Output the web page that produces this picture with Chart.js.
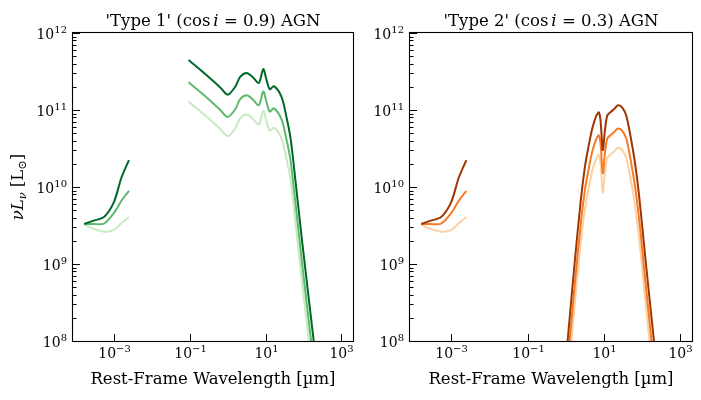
<!DOCTYPE html>
<html><head><meta charset="utf-8">
<script src="https://cdn.jsdelivr.net/npm/chart.js@4.4.1/dist/chart.umd.min.js"></script>
<style>
html,body{margin:0;padding:0;background:#fff;}
#wrap{position:relative;width:701px;height:400px;overflow:hidden;}
canvas{position:absolute;top:0;}
</style></head><body>
<div id="wrap">
<canvas id="c1" width="360" height="400" style="left:0;width:360px;height:400px"></canvas>
<canvas id="c2" width="341" height="400" style="left:360px;width:341px;height:400px"></canvas>
</div>
<script>
// ---------------- data (rest-frame wavelength in µm, νLν in L☉) ----------------
const wavelengthXray = [1.66e-4, 2.82e-4, 5.5e-4, 1.0e-3, 1.585e-3, 2.51e-3];
const lumXrayDark  = [3.31e9, 3.63e9, 4.07e9, 6.31e9, 1.32e10, 2.24e10];
const lumXrayMid   = [3.31e9, 3.31e9, 3.35e9, 4.57e9, 6.61e9, 8.91e9];
const lumXrayLight = [3.24e9, 2.88e9, 2.63e9, 2.75e9, 3.39e9, 4.07e9];

const wavelengthType1 = [0.0933, 0.316, 0.631, 1.0, 1.585, 2.14, 3.16, 4.57, 6.61, 8.71, 10.5, 12.9, 16.6, 26.3, 35.5, 45.7, 63.1, 91.2, 186, 282];
const lumType1Dark  = [4.47e11, 2.69e11, 1.98e11, 1.58e11, 2.0e11, 2.69e11, 3.02e11, 2.69e11, 2.24e11, 3.39e11, 2.51e11, 1.86e11, 2.04e11, 1.48e11, 8.13e10, 4.27e10, 1.07e10, 2.04e9, 1.0e8, 1.58e7];
const lumType1Mid   = [2.29e11, 1.38e11, 1.01e11, 8.13e10, 1.02e11, 1.38e11, 1.55e11, 1.38e11, 1.15e11, 1.74e11, 1.29e11, 9.55e10, 1.05e11, 7.59e10, 4.17e10, 2.19e10, 5.50e9, 1.05e9, 5.13e7, 8.13e6];
const lumType1Light = [1.29e11, 7.76e10, 5.70e10, 4.57e10, 5.75e10, 7.76e10, 8.71e10, 7.76e10, 6.46e10, 9.77e10, 7.24e10, 5.37e10, 5.89e10, 4.27e10, 2.34e10, 1.23e10, 3.09e9, 5.89e8, 2.88e7, 4.57e6];

const wavelengthType2 = [0.794, 1.12, 1.70, 2.51, 3.16, 3.80, 5.13, 7.24, 8.13, 9.33, 10.7, 12.3, 15.5, 18.2, 23.4, 30.2, 38.9, 57.5, 72.4, 89.1, 112, 151, 204, 282];
const lumType2Dark  = [1.58e7, 1.0e8, 1.0e9, 7.08e9, 1.78e10, 3.02e10, 6.17e10, 9.33e10, 7.41e10, 3.02e10, 5.62e10, 8.51e10, 9.55e10, 1.02e11, 1.15e11, 1.07e11, 8.32e10, 3.02e10, 1.38e10, 5.62e9, 1.78e9, 4.17e8, 1.0e8, 2.0e7];
const lumType2Mid   = [7.94e6, 5.01e7, 5.01e8, 3.55e9, 8.91e9, 1.51e10, 3.09e10, 4.68e10, 3.72e10, 1.51e10, 2.82e10, 4.27e10, 4.79e10, 5.13e10, 5.75e10, 5.37e10, 4.17e10, 1.51e10, 6.92e9, 2.82e9, 8.91e8, 2.09e8, 5.01e7, 1.0e7];
const lumType2Light = [4.47e6, 2.82e7, 2.82e8, 2.0e9, 5.01e9, 8.51e9, 1.74e10, 2.63e10, 2.09e10, 8.51e9, 1.58e10, 2.40e10, 2.69e10, 2.88e10, 3.24e10, 3.02e10, 2.34e10, 8.51e9, 3.89e9, 1.58e9, 5.01e8, 1.17e8, 2.82e7, 5.62e6];

const xTickValues = [1e-3, 1e-1, 1e1, 1e3];
const xTickExponents = ['\u22123', '\u22121', '1', '3'];
const yTickValues = [1e8, 1e9, 1e10, 1e11, 1e12];
const yTickExponents = ['8', '9', '10', '11', '12'];
const xAxisLabel = 'Rest-Frame Wavelength [\u00b5m]';
const panelTitles = [
  ["'Type 1' (", 'cos', 'i', ' = 0.9) AGN'],
  ["'Type 2' (", 'cos', 'i', ' = 0.3) AGN']
];
const greens  = ['#00682a', '#5db96b', '#c9e9c2'];
const oranges = ['#9e3503', '#f77b25', '#fdd0a2'];

const X_MIN = 8.41e-5, X_MAX = 2018, Y_MIN = 1e8, Y_MAX = 1e12;

// ---------------- drawing helpers ----------------
const SERIF = '"DejaVu Serif", serif';
function font(size, italic) { return (italic ? 'italic ' : '') + size + 'px ' + SERIF; }
function drawRich(ctx, parts, x, y, align) {
  let total = 0;
  parts.forEach(p => { ctx.font = p.f; p.w = ctx.measureText(p.t).width + (p.gap || 0); total += p.w; });
  let cx = align === 'center' ? x - total / 2 : align === 'right' ? x - total : x;
  ctx.textAlign = 'left'; ctx.textBaseline = 'alphabetic';
  parts.forEach(p => { ctx.font = p.f; ctx.fillText(p.t, cx + (p.pre || 0), y + (p.dy || 0)); cx += p.w; });
}
function powerParts(exp) {
  return [{ t: '10', f: font(14) }, { t: exp, f: font(10), dy: -6 }];
}

const decor = {
  id: 'decor',
  afterDraw(chart, args, o) {
    const { ctx, chartArea: a } = chart;
    const xs = chart.scales.x, ys = chart.scales.y;
    ctx.save();
    ctx.fillStyle = '#000'; ctx.strokeStyle = '#000';
    ctx.lineWidth = 1.1;
    ctx.strokeRect(a.left - 0.5, a.top - 0.5, a.right - a.left + 1, a.bottom - a.top + 1);
    ctx.lineWidth = 1;
    xTickValues.forEach((v, i) => {
      const px = Math.round(xs.getPixelForValue(v)) + 0.5;
      ctx.beginPath(); ctx.moveTo(px, a.bottom); ctx.lineTo(px, a.bottom - 7); ctx.stroke();
      drawRich(ctx, powerParts(xTickExponents[i]), px, a.bottom + 17, 'center');
    });
    for (let d = 8; d < 12; d++) {
      for (let m = 2; m <= 9; m++) {
        const py = Math.round(ys.getPixelForValue(m * Math.pow(10, d))) + 0.5;
        ctx.beginPath(); ctx.moveTo(a.left, py); ctx.lineTo(a.left + 3.5, py); ctx.stroke();
      }
    }
    yTickValues.forEach((v, i) => {
      const py = Math.round(ys.getPixelForValue(v)) + 0.5;
      ctx.beginPath(); ctx.moveTo(a.left, py); ctx.lineTo(a.left + 7, py); ctx.stroke();
      drawRich(ctx, powerParts(yTickExponents[i]), a.left - 6, py + 5, 'right');
    });
    const cxm = (a.left + a.right) / 2;
    drawRich(ctx, [{ t: xAxisLabel, f: font(16.5) }], cxm, 384, 'center');
    const t = o.title;
    drawRich(ctx, [
      { t: t[0], f: font(16.5) },
      { t: t[1], f: font(16.5), gap: 3 },
      { t: t[2], f: font(16.5, true) },
      { t: t[3], f: font(16.5) }
    ], cxm, 26, 'center');
    if (o.yLabel) {
      ctx.save();
      ctx.translate(23, (a.top + a.bottom) / 2);
      ctx.rotate(-Math.PI / 2);
      drawRich(ctx, [
        { t: '\u03bd', f: font(16.5, true) },
        { t: 'L', f: font(16.5, true) },
        { t: '\u03bd', f: font(11.5, true), dy: 3, gap: 5 },
        { t: '[L', f: font(16.5) },
        { t: '\u2299', f: font(11.5), dy: 3 },
        { t: ']', f: font(16.5) }
      ], 0, 0, 'center');
      ctx.restore();
    }
    ctx.restore();
  }
};

function pts(xs, ys) { return xs.map((x, i) => ({ x: x, y: ys[i] })); }
function ds(xs, ys, color) {
  return { data: pts(xs, ys), borderColor: color, backgroundColor: color, borderWidth: 2, fill: false, clip: 0,
           pointRadius: 0, tension: 0.3, borderJoinStyle: 'round', borderCapStyle: 'butt' };
}

function makeChart(id, datasets, opt) {
  return new Chart(document.getElementById(id), {
    type: 'line',
    data: { datasets: datasets },
    options: {
      responsive: false, animation: false, devicePixelRatio: 1,
      layout: { padding: opt.padding },
      plugins: { legend: { display: false }, tooltip: { enabled: false }, title: { display: false }, decor: opt },
      scales: {
        x: { type: 'logarithmic', min: X_MIN, max: X_MAX, display: false },
        y: { type: 'logarithmic', min: Y_MIN, max: Y_MAX, display: false }
      }
    },
    plugins: [decor]
  });
}

makeChart('c1', [
  ds(wavelengthXray, lumXrayDark, greens[0]),
  ds(wavelengthType1, lumType1Dark, greens[0]),
  ds(wavelengthXray, lumXrayMid, greens[1]),
  ds(wavelengthType1, lumType1Mid, greens[1]),
  ds(wavelengthXray, lumXrayLight, greens[2]),
  ds(wavelengthType1, lumType1Light, greens[2])
], { padding: { left: 73, right: 7, top: 33, bottom: 59 }, title: panelTitles[0], yLabel: true });

makeChart('c2', [
  ds(wavelengthXray, lumXrayDark, oranges[0]),
  ds(wavelengthType2, lumType2Dark, oranges[0]),
  ds(wavelengthXray, lumXrayMid, oranges[1]),
  ds(wavelengthType2, lumType2Mid, oranges[1]),
  ds(wavelengthXray, lumXrayLight, oranges[2]),
  ds(wavelengthType2, lumType2Light, oranges[2])
], { padding: { left: 50, right: 9, top: 33, bottom: 59 }, title: panelTitles[1], yLabel: false });
</script>
</body></html>
